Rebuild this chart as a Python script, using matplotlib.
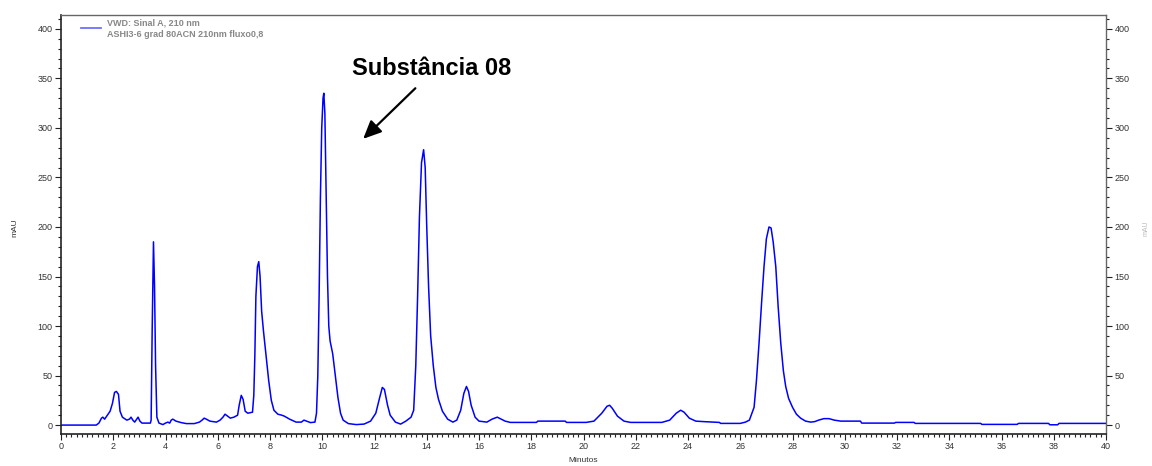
import numpy as np
import matplotlib
matplotlib.use("Agg")
import matplotlib.pyplot as plt
from matplotlib.ticker import MultipleLocator

plt.rcParams['font.family'] = ['Liberation Sans', 'DejaVu Sans']

# cromatograma (minutos, mAU)
tempo = [0.0, 1.35, 1.45, 1.55, 1.6, 1.67, 1.75, 1.88, 1.97, 2.05, 2.12, 2.2, 2.26, 2.35,
         2.52, 2.62, 2.68, 2.75, 2.82, 2.9, 2.95, 3.02, 3.1, 3.42, 3.45, 3.49, 3.54, 3.58,
         3.62, 3.67, 3.75, 3.9, 4.0, 4.09, 4.16, 4.22, 4.28, 4.4, 4.6, 4.8, 5.1, 5.3, 5.4,
         5.48, 5.56, 5.7, 5.95, 6.09, 6.2, 6.28, 6.38, 6.48, 6.62, 6.76, 6.82, 6.9, 6.97,
         7.05, 7.15, 7.33, 7.38, 7.42, 7.46, 7.52, 7.57, 7.62, 7.68, 7.75, 7.85, 7.95, 8.05,
         8.15, 8.3, 8.45, 8.55, 8.75, 9.0, 9.2, 9.3, 9.4, 9.55, 9.72, 9.78, 9.83, 9.88, 9.93,
         9.98, 10.03, 10.06, 10.1, 10.15, 10.2, 10.25, 10.3, 10.4, 10.5, 10.6, 10.7, 10.8,
         11.0, 11.3, 11.6, 11.85, 12.05, 12.2, 12.3, 12.38, 12.5, 12.6, 12.8, 13.0, 13.2,
         13.4, 13.5, 13.58, 13.65, 13.72, 13.8, 13.88, 13.94, 14.0, 14.07, 14.15, 14.25,
         14.35, 14.45, 14.6, 14.8, 15.0, 15.15, 15.3, 15.42, 15.52, 15.6, 15.7, 15.85, 16.0,
         16.3, 16.5, 16.7, 16.85, 17.0, 17.2, 18.2, 18.25, 19.3, 19.35, 20.1, 20.4, 20.7,
         20.9, 21.0, 21.1, 21.3, 21.55, 21.8, 23.0, 23.3, 23.55, 23.72, 23.85, 24.05, 24.3,
         24.6, 25.2, 25.25, 26.0, 26.2, 26.35, 26.53, 26.62, 26.72, 26.82, 26.91, 27.0,
         27.1, 27.18, 27.26, 27.36, 27.45, 27.55, 27.65, 27.74, 27.85, 28.0, 28.15, 28.31,
         28.5, 28.7, 28.85, 29.0, 29.2, 29.4, 29.6, 29.85, 30.6, 30.65, 31.9, 31.95, 32.65,
         32.7, 35.2, 35.25, 36.6, 36.65, 37.8, 37.85, 38.15, 38.2, 40.0]
mau = [0, 0, 2, 7, 8, 6, 9, 14, 22, 33, 34, 31, 14, 8,
       5, 6, 8, 5, 3, 6, 8, 4, 2, 2, 5, 96, 185, 140,
       60, 8, 2, 0.5, 2, 3, 2, 5, 6, 4, 2.5, 1.5, 1.5, 3, 5,
       7, 6, 4, 3, 5, 8, 11, 9, 7, 8, 10, 20, 30, 26,
       14, 12, 13, 30, 70, 130, 160, 165, 150, 115, 95, 70, 45, 25,
       15, 11, 10, 9, 6, 3, 3, 5, 4, 2.5, 3, 12, 50, 130, 230,
       300, 330, 335, 315, 230, 150, 100, 85, 72, 50, 28, 12, 5,
       1.5, 0.5, 1, 4, 12, 28, 38, 36, 20, 10, 3, 1, 4,
       8, 15, 60, 130, 210, 265, 278, 260, 200, 140, 90, 60,
       38, 26, 14, 6, 3, 5, 15, 32, 39, 34, 20, 8, 4,
       3, 6, 8, 6, 4, 2.7, 2.7, 4, 4, 2.7, 2.7, 4, 12,
       19, 20, 17, 9, 4, 2.7, 2.7, 5, 12, 15, 13, 7, 4,
       3.5, 2.7, 1.7, 1.7, 3, 5, 18, 45, 83, 125, 160, 188,
       200, 199, 185, 160, 120, 83, 55, 39, 27, 18, 11, 7,
       4, 3, 3.5, 5, 6.5, 6.5, 5, 4, 4, 2, 2, 2.7, 2.7,
       1.7, 1.7, 0.7, 0.7, 1.7, 1.7, 0.3, 0.3, 1.7, 1.7]

legenda = ["VWD: Sinal A, 210 nm", "ASHI3-6 grad 80ACN 210nm fluxo0,8"]
anotacao = "Substância 08"

fig = plt.figure(figsize=(11.52, 4.66), dpi=100)
ax = fig.add_axes([61/1152, 32/466, 1045/1152, 419/466])

ax.plot(tempo, mau, color="#0000ff", lw=1.1)

ax.set_xlim(0, 40)
ax.set_ylim(-9, 414)
ax.xaxis.set_major_locator(MultipleLocator(2))
ax.xaxis.set_minor_locator(MultipleLocator(0.2))
ax.yaxis.set_major_locator(MultipleLocator(50))
ax.yaxis.set_minor_locator(MultipleLocator(10))
ax.set_yticks(np.arange(0, 401, 50))

ax.tick_params(which="both", direction="out", colors="#222222", labelcolor="#333333",
               labelsize=6.5, width=0.8)
ax.tick_params(which="major", length=4, pad=2)
ax.tick_params(which="minor", length=2)
ax.tick_params(axis="y", which="both", left=True, right=True, labelleft=True, labelright=True)
ax.tick_params(axis="x", which="both", top=False)

for lado in ["left", "bottom"]:
    ax.spines[lado].set_color("#222222")
    ax.spines[lado].set_linewidth(1.2)
for lado in ["top", "right"]:
    ax.spines[lado].set_color("#666666")
    ax.spines[lado].set_linewidth(1.0)

ax.set_xlabel("Minutos", fontsize=6, color="#333333", labelpad=4)
fig.text(15/1152, 1 - 228/466, "mAU", rotation=90, fontsize=6, color="#333333",
         ha="center", va="center")
fig.text(1146/1152, 1 - 228/466, "mAU", rotation=90, fontsize=5, color="#bbbbbb",
         ha="center", va="center")

# legenda do sinal
ax.plot([0.77, 1.53], [401, 401], color="#7070ff", lw=1.3)
ax.text(1.77, 406, legenda[0], fontsize=6.5, fontweight="bold", color="#888888", va="center")
ax.text(1.77, 394, legenda[1], fontsize=6.5, fontweight="bold", color="#888888", va="center")

ax.annotate("", xy=(11.49, 287), xytext=(13.64, 342),
            arrowprops=dict(arrowstyle="-|>,head_length=1.1,head_width=0.5", color="black", lw=1.6))
ax.text(14.18, 360, anotacao, fontsize=17, fontweight="bold", ha="center", va="center")

fig.savefig("out.png", dpi=100)
